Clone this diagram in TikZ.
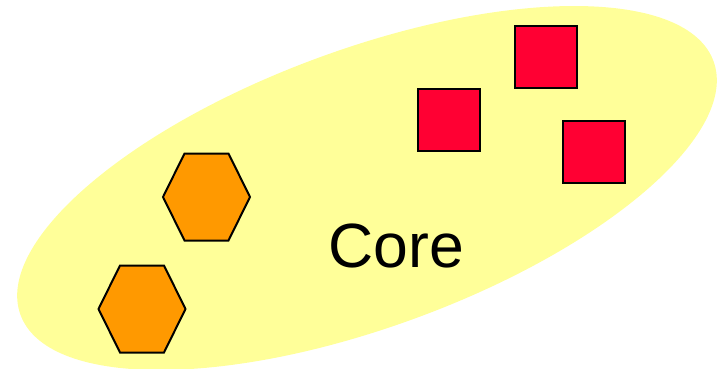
\documentclass[tikz,border=0pt]{standalone}
\usepackage{fontspec}
\setmainfont{Liberation Sans}
\usetikzlibrary{calc}
\definecolor{coreyellow}{RGB}{255,255,153}
\definecolor{boxred}{RGB}{255,0,51}
\definecolor{hexorange}{RGB}{255,153,0}
\tikzset{
  redbox/.style={draw=black, line width=2pt, fill=boxred, minimum size=62pt, inner sep=0pt},
  hexshape/.style={draw=black, line width=2pt, fill=hexorange, line join=miter}
}
\begin{document}
\begin{tikzpicture}[x=1pt,y=1pt]
\useasboundingbox (0,0) rectangle (724,368);
\begin{scope}
\clip (0,0) rectangle (724,368);
\fill[coreyellow, rotate around={20.1:(367,180)}] (367,180) ellipse [x radius=369, y radius=139];
\end{scope}
% red squares
\node[redbox] (sqA) at (449,248) {};
\node[redbox] (sqB) at (545.5,311.5) {};
\node[redbox] (sqC) at (594,216.5) {};
% orange hexagons
\coordinate (hexA) at (206.5,171);
\coordinate (hexB) at (142,59);
\foreach \c in {hexA,hexB}{
  \draw[hexshape] ($(\c)+(-43.5,0)$) -- ++(21.5,43.5) -- ++(44,0) -- ++(21.5,-43.5) -- ++(-21.5,-43.5) -- ++(-44,0) -- cycle;
}
\node[anchor=base, font=\fontsize{62.5}{62.5}\selectfont, inner sep=0pt] (core) at (396.5,100.3) {Core};
\end{tikzpicture}
\end{document}
